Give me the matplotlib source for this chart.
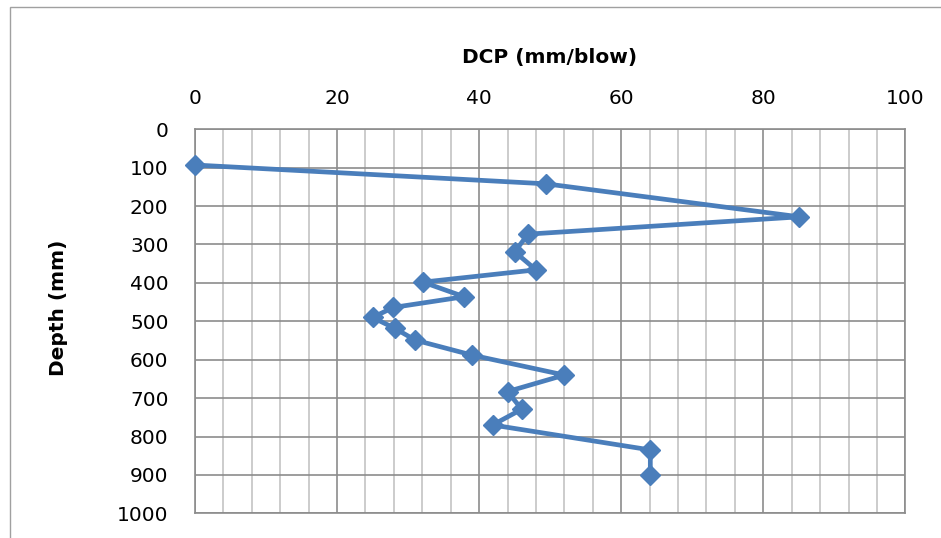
import matplotlib.pyplot as plt
from matplotlib.patches import Rectangle
from matplotlib.ticker import MultipleLocator

plt.rcParams.update({
    "font.family": "DejaVu Sans",
    "font.size": 14.5,
})

# DCP penetration rate against depth
dcp_rate = [0, 49.4, 85.1, 46.9, 45.0, 48.0, 32.1, 37.9, 27.9, 25.0,
            28.1, 31.0, 39.0, 52.0, 44.0, 46.0, 41.9, 64.1, 64.1]
depth = [93, 142, 228, 273, 319, 366, 398, 436, 464, 490,
         518, 549, 588, 640, 683, 729, 770, 835, 900]

LINE_BLUE = "#4a7ebb"
GRID_DARK = "#8c8c8c"
GRID_LIGHT = "#c4c4c4"

fig = plt.figure(figsize=(9.41, 5.38), dpi=100)
ax = fig.add_axes([0.2072, 0.0459, 0.7549, 0.7138])

ax.plot(dcp_rate, depth, color=LINE_BLUE, lw=3.4, marker="D",
        markersize=10, markerfacecolor=LINE_BLUE, markeredgecolor=LINE_BLUE,
        zorder=3, clip_on=False)

ax.set_xlim(0, 100)
ax.set_ylim(1000, 0)
ax.xaxis.set_major_locator(MultipleLocator(20))
ax.xaxis.set_minor_locator(MultipleLocator(4))
ax.yaxis.set_major_locator(MultipleLocator(100))

ax.xaxis.tick_top()
ax.tick_params(axis="x", which="both", length=0, pad=15, labelsize=14.5)
ax.tick_params(axis="y", which="both", length=0, pad=19, labelsize=14.5)

ax.grid(axis="x", which="minor", color=GRID_LIGHT, lw=1.2, zorder=0)
ax.grid(axis="x", which="major", color=GRID_DARK, lw=1.2, zorder=1)
ax.grid(axis="y", which="major", color=GRID_DARK, lw=1.2, zorder=1)
ax.set_axisbelow(True)
for s in ax.spines.values():
    s.set_color(GRID_DARK)
    s.set_linewidth(1.2)

fig.text(550 / 941, 1 - 58 / 538, "DCP (mm/blow)", ha="center", va="center",
         fontsize=14.5, fontweight="bold")
fig.text(59 / 941, 1 - 308 / 538, "Depth (mm)", ha="center", va="center",
         rotation=90, fontsize=14.5, fontweight="bold")

# chart frame, running off the right and bottom edges
fig.patches.append(Rectangle((10 / 941, -0.1), 1.2, 1 - 7 / 538 + 0.1,
                             transform=fig.transFigure, fill=False,
                             edgecolor="#a0a0a0", lw=1.0))

fig.savefig("out.png", dpi=100)
